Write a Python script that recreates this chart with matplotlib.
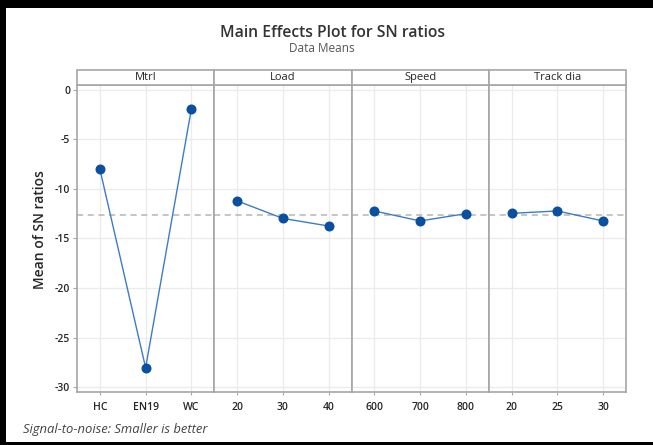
import numpy as np
import matplotlib.pyplot as plt
from matplotlib.patches import Rectangle

# factors and their levels
factors = ["Mtrl", "Load", "Speed", "Track dia"]
levels = [["HC", "EN19", "WC"],
          ["20", "30", "40"],
          ["600", "700", "800"],
          ["20", "25", "30"]]

# mean SN ratio at each level
sn_mtrl = [-8.0, -28.05, -1.92]
sn_load = [-11.2, -12.97, -13.74]
sn_speed = [-12.22, -13.23, -12.49]
sn_track = [-12.46, -12.22, -13.23]
sn_all = [sn_mtrl, sn_load, sn_speed, sn_track]

yticks = [0, -5, -10, -15, -20, -25, -30]

plt.rcParams['font.family'] = ['Open Sans', 'DejaVu Sans']

W, H = 653, 445
fig = plt.figure(figsize=(W / 100, H / 100), dpi=100)
fig.patch.set_facecolor("white")

grand_mean = np.mean(sn_mtrl)

line_col = "#3d7cc4"
dot_col = "#0a4fa0"
frame_col = "#a6a6a6"
grid_col = "#ebebeb"
txt_col = "#262626"

x0, x1 = 77, 626
y_top, y_bot = 85, 392
strip_h = 15
pw = (x1 - x0) / 4

axes = []
for i, (name, labs, vals) in enumerate(zip(factors, levels, sn_all)):
    left = (x0 + i * pw) / W
    ax = fig.add_axes([left, 1 - y_bot / H, pw / W, (y_bot - y_top) / H])
    xs = np.arange(len(vals))
    ax.axhline(grand_mean, color="#b5b5b5", ls=(0, (4, 3)), lw=1.1, zorder=1)
    ax.plot(xs, vals, color=line_col, lw=1.0, zorder=2)
    ax.plot(xs, vals, "o", color=dot_col, ms=6.2, zorder=3)
    ax.set_xlim(-0.5, 2.5)
    ax.set_ylim(-30.5, 0.5)
    ax.set_xticks(xs)
    ax.set_xticklabels(labs, fontsize=7.5, color=txt_col, fontweight="semibold")
    ax.set_yticks(yticks)
    ax.grid(True, color=grid_col, lw=0.9)
    ax.set_axisbelow(True)
    for sp in ax.spines.values():
        sp.set_color(frame_col)
        sp.set_linewidth(1.2)
    ax.tick_params(axis="x", length=2, color=frame_col, pad=5)
    if i == 0:
        ax.set_yticklabels([str(t) for t in yticks], fontsize=7.5,
                           color=txt_col, fontweight="semibold")
        ax.tick_params(axis="y", length=3, color=frame_col, pad=2)
    else:
        ax.tick_params(axis="y", length=0, labelleft=False)
    axes.append(ax)

    # strip header with factor name
    fig.patches.append(Rectangle((left, 1 - y_top / H), pw / W, strip_h / H,
                                 transform=fig.transFigure, facecolor="white",
                                 edgecolor=frame_col, lw=1.2))
    fig.text(left + pw / W / 2, 1 - (y_top - strip_h / 2) / H, name,
             ha="center", va="center", fontsize=8, color=txt_col)

fig.text(40 / W, 1 - 230 / H, "Mean of SN ratios", rotation=90,
         ha="center", va="center", fontsize=10, color=txt_col,
         fontweight="semibold")
fig.text(332 / W, 1 - 33 / H, "Main Effects Plot for SN ratios",
         ha="center", va="center", fontsize=11.3, color="#333333",
         fontweight="semibold")
fig.text(322 / W, 1 - 48 / H, "Data Means",
         ha="center", va="center", fontsize=8.5, color="#555555")
fig.text(23 / W, 1 - 430 / H, "Signal-to-noise: Smaller is better",
         ha="left", va="center", fontsize=9.4, style="italic", color="#444444")

# dark frame around the picture
fig.patches.append(Rectangle((0, 0), 6 / W, 1, transform=fig.transFigure,
                             facecolor="black", edgecolor="none"))
fig.patches.append(Rectangle((0, 1 - 8 / H), 1, 8 / H, transform=fig.transFigure,
                             facecolor="black", edgecolor="none"))
fig.patches.append(Rectangle((0, 0), 1, 3 / H, transform=fig.transFigure,
                             facecolor="black", edgecolor="none"))

fig.savefig("out.png", dpi=100)
